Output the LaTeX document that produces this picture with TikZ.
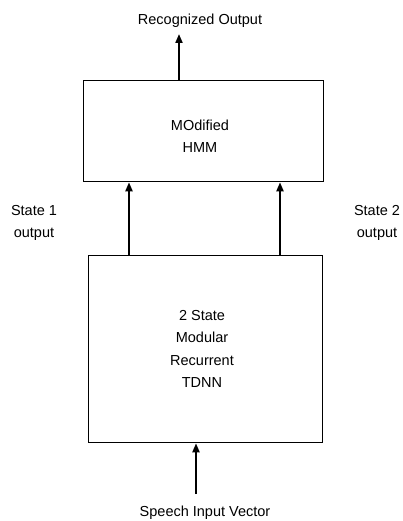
\documentclass[tikz,border=0pt]{standalone}
\usepackage{fontspec}
\setmainfont{Liberation Sans}
\usetikzlibrary{arrows.meta}
\begin{document}
\begin{tikzpicture}[x=1pt,y=-1pt,
  blk/.style={draw,line width=1.3pt,inner sep=0pt,anchor=north west},
  lbl/.style={font=\fontsize{14.5}{22.5}\selectfont,align=center,inner sep=0pt},
  arr/.style={line width=2pt,-{Triangle[width=7pt,length=9pt]}}]
\useasboundingbox (0,0) rectangle (403,521);
\node[blk,minimum width=240pt,minimum height=101pt] (hmm) at (83,80) {};
\node[blk,minimum width=234pt,minimum height=187pt] (tdnn) at (88,255) {};
\node[lbl] (hmmtxt) at (200,136) {MOdified\\HMM};
\node[lbl] (tdnntxt) at (202,349) {2 State\\Modular\\Recurrent\\TDNN};
\node[lbl] (out) at (200,21) {Recognized Output};
\node[lbl] (in) at (205,513) {Speech Input Vector};
\node[lbl] (s1) at (34,223) {State 1\\output};
\node[lbl] (s2) at (377,223) {State 2\\output};
\coordinate (outtip) at (179,34);
\coordinate (intail) at (196,494);
\draw[arr] (hmm.north west -| outtip) -- (outtip);
\draw[arr] (tdnn.north west -| 129,0) -- (hmm.south west -| 129,0);
\draw[arr] (tdnn.north west -| 280,0) -- (hmm.south west -| 280,0);
\draw[arr] (intail) -- (tdnn.south west -| intail);
\end{tikzpicture}
\end{document}
